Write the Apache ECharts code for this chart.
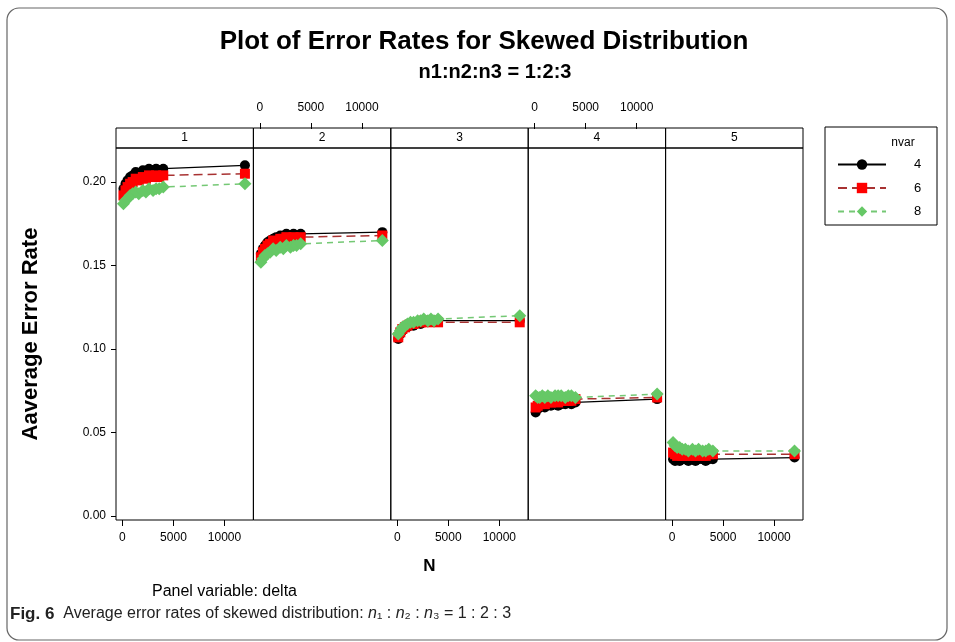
<!DOCTYPE html>
<html>
<head>
<meta charset="utf-8">
<script src="https://cdn.jsdelivr.net/npm/echarts@6/dist/echarts.min.js"></script>
<style>
html,body{margin:0;padding:0;background:#fff;}
#chart{width:955px;height:642px;}
</style>
</head>
<body>
<div id="chart"></div>
<script>
// ---- data ----
const sampleN = [100, 300, 500, 750, 1000, 1300, 1600, 2000, 2300, 2600, 3000, 3300, 3600, 4000, 12000];
const deltaPanels = ['1', '2', '3', '4', '5'];
const nvarLevels = ['4', '6', '8'];
// average error rate, one row per delta panel
const rateNvar4 = [
  [0.196, 0.199, 0.201, 0.203, 0.204, 0.206, 0.205, 0.207, 0.206, 0.208, 0.207, 0.208, 0.207, 0.208, 0.210],
  [0.157, 0.160, 0.162, 0.164, 0.165, 0.166, 0.167, 0.168, 0.167, 0.169, 0.168, 0.169, 0.168, 0.169, 0.170],
  [0.106, 0.109, 0.111, 0.113, 0.113, 0.115, 0.114, 0.116, 0.115, 0.117, 0.116, 0.117, 0.116, 0.117, 0.117],
  [0.062, 0.064, 0.065, 0.066, 0.065, 0.067, 0.066, 0.067, 0.066, 0.067, 0.067, 0.068, 0.067, 0.068, 0.070],
  [0.034, 0.033, 0.034, 0.033, 0.034, 0.034, 0.033, 0.034, 0.033, 0.034, 0.034, 0.033, 0.034, 0.034, 0.035]
];
const rateNvar6 = [
  [0.192, 0.195, 0.197, 0.199, 0.200, 0.202, 0.201, 0.203, 0.202, 0.204, 0.203, 0.204, 0.203, 0.204, 0.205],
  [0.155, 0.158, 0.160, 0.162, 0.163, 0.165, 0.164, 0.166, 0.166, 0.167, 0.166, 0.167, 0.166, 0.167, 0.168],
  [0.107, 0.110, 0.112, 0.113, 0.114, 0.115, 0.115, 0.116, 0.116, 0.117, 0.116, 0.117, 0.117, 0.116, 0.116],
  [0.065, 0.066, 0.067, 0.068, 0.067, 0.068, 0.068, 0.069, 0.068, 0.069, 0.069, 0.069, 0.069, 0.070, 0.071],
  [0.038, 0.037, 0.036, 0.037, 0.036, 0.036, 0.037, 0.036, 0.036, 0.037, 0.036, 0.036, 0.037, 0.037, 0.037]
];
const rateNvar8 = [
  [0.187, 0.189, 0.190, 0.192, 0.193, 0.194, 0.193, 0.195, 0.194, 0.196, 0.195, 0.196, 0.196, 0.197, 0.199],
  [0.152, 0.154, 0.156, 0.157, 0.158, 0.160, 0.159, 0.161, 0.160, 0.162, 0.161, 0.162, 0.162, 0.163, 0.165],
  [0.109, 0.111, 0.113, 0.114, 0.115, 0.116, 0.116, 0.117, 0.117, 0.118, 0.117, 0.118, 0.117, 0.118, 0.120],
  [0.072, 0.071, 0.071, 0.072, 0.071, 0.072, 0.071, 0.072, 0.072, 0.072, 0.071, 0.072, 0.072, 0.071, 0.073],
  [0.044, 0.042, 0.041, 0.041, 0.040, 0.040, 0.039, 0.040, 0.039, 0.040, 0.039, 0.039, 0.040, 0.039, 0.039]
];
const xTickValues = [0, 5000, 10000];
const yTickValues = [0, 0.05, 0.10, 0.15, 0.20];

// ---- layout / style ----
const PL = 116, PW = 137.4, PT = 148, PH = 372, STRIP = 20;
const XMIN = -630, XMAX = 12830, YMIN = -0.0024, YMAX = 0.2204;
const FONT = 'Liberation Sans';
const seriesStyle = [
  { symbol: 'circle', size: 10, mark: '#000000', line: '#000000', type: 'solid', w: 1.3 },
  { symbol: 'rect', size: 10, mark: '#ff0000', line: '#a83232', type: [9, 5], w: 1.5 },
  { symbol: 'diamond', size: 13, mark: '#66c866', line: '#74c874', type: [6, 5], w: 1.5 }
];
const allRates = [rateNvar4, rateNvar6, rateNvar8];

const grids = [], xAxes = [], yAxes = [], series = [], graphics = [];
const hidden = () => ({ axisLine: { show: false }, axisTick: { show: false }, axisLabel: { show: false }, splitLine: { show: false } });

const xT0 = xTickValues[0], xT1 = xTickValues[xTickValues.length - 1];
const yT0 = yTickValues[0], yT1 = yTickValues[yTickValues.length - 1];
const xPx = v => (v - XMIN) / (XMAX - XMIN) * PW;
const yPx = v => PT + (YMAX - v) / (YMAX - YMIN) * PH;

deltaPanels.forEach((p, i) => {
  const left = PL + i * PW;
  // data grid
  const gi = grids.length;
  grids.push({ left: left, top: PT, width: PW, height: PH, show: true,
    borderColor: '#000', borderWidth: 1, backgroundColor: 'transparent' });
  xAxes.push(Object.assign({ type: 'value', gridIndex: gi, min: XMIN, max: XMAX }, hidden(),
    i === 2 ? { name: 'N', nameLocation: 'middle', nameGap: 38,
      nameTextStyle: { fontFamily: FONT, fontWeight: 'bold', fontSize: 17, color: '#000', padding: [0, 60, 0, 0] } } : {}));
  yAxes.push(Object.assign({ type: 'value', gridIndex: gi, min: YMIN, max: YMAX }, hidden(),
    i === 0 ? { name: 'Aaverage Error Rate', nameLocation: 'middle', nameGap: 74,
      nameTextStyle: { fontFamily: FONT, fontWeight: 'bold', fontSize: 22, color: '#000' } } : {}));
  nvarLevels.forEach((lv, k) => {
    const st = seriesStyle[k];
    series.push({
      name: lv, type: 'line', xAxisIndex: xAxes.length - 1, yAxisIndex: yAxes.length - 1,
      data: sampleN.map((n, j) => [n, allRates[k][i][j]]),
      symbol: st.symbol, symbolSize: st.size, showAllSymbol: true,
      itemStyle: { color: st.mark },
      lineStyle: { color: st.line, type: st.type, width: st.w },
      emphasis: { disabled: true }, animation: false, z: 2 + k
    });
  });
  // x tick axis on a thin grid (alternating bottom / top, above the strip)
  const isTop = (i % 2 === 1);
  const tgi = grids.length;
  grids.push({ left: left + xPx(xT0), width: xPx(xT1) - xPx(xT0),
    top: isTop ? PT - STRIP : PT + PH - 1, height: 1, show: false });
  xAxes.push({
    type: 'value', gridIndex: tgi, min: xT0, max: xT1, interval: xTickValues[1] - xTickValues[0],
    position: isTop ? 'top' : 'bottom',
    axisLine: { show: false },
    axisTick: { show: true, inside: false, length: 6, lineStyle: { color: '#000', width: 1 } },
    axisLabel: { show: true, inside: false, color: '#000', fontFamily: FONT, fontSize: 12, margin: isTop ? 14 : 12,
      formatter: v => String(v) },
    splitLine: { show: false }
  });
  yAxes.push(Object.assign({ type: 'value', gridIndex: tgi, min: 0, max: 1 }, hidden()));
  // strip header
  graphics.push({ type: 'rect', shape: { x: left, y: PT - STRIP, width: PW, height: STRIP },
    style: { fill: 'none', stroke: '#000', lineWidth: 1 } });
  graphics.push({ type: 'text', x: left + PW / 2, y: PT - STRIP / 2,
    style: { text: p, fontFamily: FONT, fontSize: 12, fill: '#000', align: 'center', verticalAlign: 'middle' } });
});

// y tick axis on the left of panel 1 (thin grid)
const ygi = grids.length;
grids.push({ left: PL, width: 1, top: yPx(yT1), height: yPx(yT0) - yPx(yT1), show: false });
xAxes.push(Object.assign({ type: 'value', gridIndex: ygi, min: 0, max: 1 }, hidden()));
yAxes.push({
  type: 'value', gridIndex: ygi, min: yT0, max: yT1, interval: yTickValues[1] - yTickValues[0],
  position: 'left',
  axisLine: { show: false },
  axisTick: { show: true, inside: false, length: 5, lineStyle: { color: '#000' } },
  axisLabel: { show: true, inside: false, color: '#000', fontFamily: FONT, fontSize: 12, margin: 10, formatter: v => v.toFixed(2) },
  splitLine: { show: false }
});

// legend box + header
graphics.push({ type: 'rect', shape: { x: 825, y: 127, width: 112, height: 98 },
  style: { fill: 'none', stroke: '#000', lineWidth: 1 } });
graphics.push({ type: 'text', x: 903, y: 143,
  style: { text: 'nvar', fontFamily: FONT, fontSize: 12, fill: '#000', align: 'center', verticalAlign: 'middle' } });
// outer frame
graphics.push({ type: 'rect', shape: { x: 7, y: 8, width: 940, height: 632, r: 12 },
  style: { fill: 'none', stroke: '#666', lineWidth: 1.2 }, z: -10 });
graphics.push({ type: 'text', x: 152, y: 592,
  style: { text: 'Panel variable: delta', fontFamily: FONT, fontSize: 16, fill: '#000', align: 'left', verticalAlign: 'middle' } });
graphics.push({ type: 'text', x: 10, y: 614,
  style: { text: '{b|Fig. 6}  Average error rates of skewed distribution: {i|n}₁ : {i|n}₂ : {i|n}₃ = 1 : 2 : 3',
    fontFamily: FONT, fontSize: 16, fill: '#222', align: 'left', verticalAlign: 'middle',
    rich: { b: { fontWeight: 'bold', fontFamily: FONT, fontSize: 17, fill: '#222' },
            i: { fontStyle: 'italic', fontFamily: FONT, fontSize: 16, fill: '#222' } } } });

const chart = echarts.init(document.getElementById('chart'), null, { renderer: 'canvas' });
chart.setOption({
  animation: false,
  backgroundColor: '#fff',
  title: [
    { text: 'Plot of Error Rates for Skewed Distribution', left: 479, top: 24, textAlign: 'center',
      textStyle: { fontFamily: FONT, fontWeight: 'bold', fontSize: 26, color: '#000' } },
    { text: 'n1:n2:n3 = 1:2:3', left: 490, top: 57, textAlign: 'center',
      textStyle: { fontFamily: FONT, fontWeight: 'bold', fontSize: 20, color: '#000' } }
  ],
  legend: {
    data: nvarLevels, orient: 'vertical', left: 832, top: 153, itemWidth: 48, itemHeight: 13, itemGap: 10.5,
    selectedMode: false,
    textStyle: { fontFamily: FONT, fontSize: 13, color: '#000', padding: [0, 0, 0, 23] }
  },
  grid: grids, xAxis: xAxes, yAxis: yAxes, series: series, graphic: graphics
});
</script>
</body>
</html>
